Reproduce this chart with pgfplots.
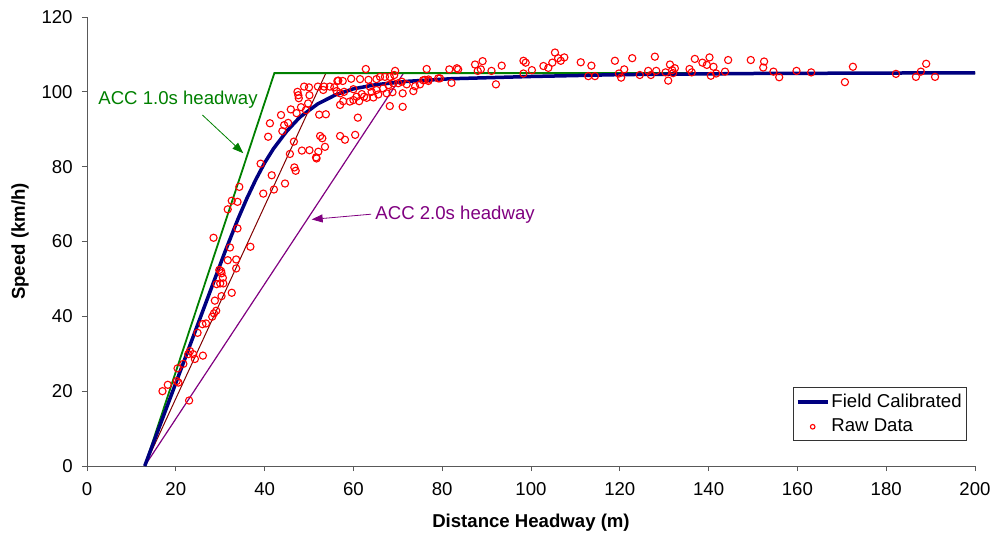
\documentclass[border=0pt]{standalone}
\usepackage{pgfplots}
\pgfplotsset{compat=1.18}
\usepackage{pgfplotstable}
\usepackage{fontspec}
\setmainfont{Liberation Sans}
\usetikzlibrary{arrows.meta}
\definecolor{accgreen}{RGB}{0,128,0}
\definecolor{accpurple}{RGB}{128,0,128}
\definecolor{accbrown}{RGB}{128,0,0}
\definecolor{fieldblue}{RGB}{0,0,128}
\definecolor{rawred}{RGB}{255,0,0}
\pgfplotsset{
  lineleg/.style={legend image code/.code={\draw[##1] (0pt,0pt) -- (30pt,0pt);}},
  markleg/.style={legend image code/.code={\draw[##1, mark size=2.3pt] plot coordinates {(15pt,0pt)};}},
}

\pgfplotstableread{
x y
17.0 20.0
18.2 21.7
20.2 22.7
20.6 22.3
20.4 26.1
21.7 27.3
23.0 17.5
22.8 29.9
23.2 30.7
23.9 29.9
24.3 28.6
26.1 29.5
24.9 35.6
26.0 37.9
26.8 38.1
28.2 39.9
28.6 40.8
29.1 41.5
28.8 44.2
30.3 45.4
32.6 46.3
29.2 48.6
30.0 48.8
30.7 48.8
30.6 50.3
30.3 51.5
30.2 52.1
29.8 52.4
33.6 52.8
33.6 55.2
31.7 55.0
32.2 58.4
36.8 58.6
28.5 61.0
33.9 63.5
31.7 68.6
32.6 70.9
33.9 70.6
34.3 74.6
39.7 72.8
42.1 73.9
44.6 75.5
41.6 77.7
39.1 80.8
45.7 83.4
46.7 79.8
47.0 78.9
46.6 86.7
48.4 84.3
50.1 84.4
51.7 82.2
52.1 84.0
51.6 82.5
52.5 88.2
53.0 87.6
53.6 85.3
40.8 88.0
41.2 91.6
43.7 93.8
44.0 89.5
44.4 91.1
45.3 91.7
45.9 95.3
47.2 94.3
48.2 95.9
49.3 95.1
49.8 96.9
47.4 100.0
47.6 99.1
47.7 98.3
48.9 101.4
50.0 101.2
50.1 99.1
52.0 101.4
53.4 101.4
54.7 101.4
55.7 101.2
57.0 99.6
52.3 93.9
53.8 94.0
57.0 96.5
57.0 88.2
58.1 87.2
60.4 88.5
61.0 93.1
56.6 103.0
62.8 106.1
69.4 105.6
69.2 104.5
76.5 106.1
53.2 100.5
56.4 102.9
57.6 102.9
59.5 103.5
56.2 100.2
57.9 100.0
60.0 100.7
61.5 103.4
63.4 103.2
63.7 101.4
65.2 103.4
66.0 104.0
67.1 104.0
68.2 104.0
60.7 98.7
61.9 99.4
62.4 98.7
64.1 100.0
65.2 100.5
66.7 100.9
67.9 101.8
69.0 102.3
70.1 102.3
70.9 102.7
72.0 102.0
59.2 97.4
60.0 97.8
61.3 97.5
63.0 98.4
64.5 98.5
65.6 99.3
67.5 99.6
68.8 99.9
71.1 99.6
73.5 100.2
75.0 102.0
76.1 103.2
76.9 102.9
57.7 97.5
68.2 96.2
71.1 96.0
73.9 101.5
75.7 103.1
76.9 103.3
79.1 103.6
82.1 102.4
81.6 106.0
83.3 106.3
79.5 103.6
83.6 106.0
87.4 107.3
89.1 108.2
88.0 105.6
88.7 106.0
91.1 105.6
93.4 107.0
92.1 102.0
98.3 108.3
98.8 107.8
98.3 104.9
100.2 105.8
102.8 106.9
103.9 106.4
104.8 107.8
105.4 110.5
106.1 109.0
106.7 108.3
107.5 109.2
111.2 107.9
113.6 107.0
112.9 104.2
114.4 104.2
118.9 108.3
122.8 109.0
119.8 104.9
120.3 103.8
121.0 106.0
124.5 104.5
126.4 105.6
127.0 104.5
127.9 109.4
128.2 105.6
130.3 105.2
131.3 107.3
131.8 105.8
132.4 106.3
130.9 103.0
132.0 105.0
135.7 106.1
136.2 105.2
136.9 108.8
138.6 107.8
139.6 107.2
140.2 109.2
141.1 106.7
140.5 104.3
141.7 104.9
143.7 105.4
144.4 108.5
149.5 108.5
152.5 108.1
152.3 106.5
154.6 105.4
155.9 103.9
159.8 105.6
163.1 105.2
170.7 102.6
172.5 106.7
182.2 104.8
186.7 104.0
187.8 105.4
189.0 107.5
191.0 104.0
}\rawdata

\pgfplotstableread{
x y
13 0
16 9.5
19 19
22 28.5
25 38
28 47.5
31 57
34 66
36 71.5
38 76.5
40 81
42 84.8
45 89.5
48 93.3
52 96.8
56 99.2
60 100.8
65 101.9
72 102.8
82 103.5
100 104.1
120 104.6
150 104.9
200 105.1
}\fielddata

\begin{document}
\fontsize{18.6}{22}\selectfont
\begin{tikzpicture}
\path[use as bounding box] (-87pt,-76pt) rectangle (908pt,466pt);
\begin{axis}[
  at={(0,0)}, anchor=south west,
  scale only axis, width=888pt, height=449pt,
  xmin=0, xmax=200, ymin=0, ymax=120,
  xtick={0,20,...,200}, ytick={0,20,...,120},
  axis x line*=bottom, axis y line*=left,
  tick align=outside, major tick length=5pt,
  tick style={black!65, line width=0.8pt},
  axis line style={black!65, line width=0.8pt},
  /pgf/number format/assume math mode=true,
  ticklabel style={font=\fontsize{18.6}{22}\selectfont},
  xticklabel style={yshift=-5pt},
  yticklabel style={xshift=-3pt},
  label style={font=\fontsize{18.6}{22}\selectfont\bfseries},
  xlabel={Distance Headway (m)},
  ylabel={Speed (km/h)},
  xlabel style={at={(axis description cs:0.5,-0.127)}, anchor=center},
  ylabel style={at={(axis description cs:-0.0755,0.5)}, anchor=center},
  legend style={at={(rel axis cs:0.991,0.056)}, anchor=south east,
    draw=black!80, line width=0.6pt, fill=white,
    font=\fontsize{18.6}{22}\selectfont, inner xsep=3pt, inner ysep=4pt, row sep=5pt},
  legend cell align=left,
]
\addplot[accpurple, line width=1.2pt, forget plot] coordinates {(13,0) (71.3,105) (200,105)};
\addplot[accbrown, line width=1pt, forget plot] coordinates {(13,0) (53.8,105) (200,105)};
\addplot[accgreen, line width=1.8pt, forget plot] coordinates {(13,0) (42.2,105) (200,105)};
\addplot[fieldblue, line width=3.5pt, line join=round, lineleg] table[x=x,y=y] {\fielddata};
\addlegendentry{Field Calibrated}
\addplot[only marks, mark=o, mark size=3.6pt, rawred, mark options={line width=1.1pt}, markleg] table[x=x,y=y] {\rawdata};
\addlegendentry{Raw Data}
\node[text=accgreen, font=\fontsize{18.6}{22}\selectfont] at (axis cs:20.5,97.8) {ACC 1.0s headway};
\draw[accgreen, line width=0.8pt, -{Triangle[length=11pt,width=8pt]}] (axis cs:26.0,93.8) -- (axis cs:35.2,83.6);
\node[text=accpurple, font=\fontsize{18.6}{22}\selectfont] at (axis cs:82.9,67.1) {ACC 2.0s headway};
\draw[accpurple, line width=0.8pt, -{Triangle[length=11pt,width=8pt]}] (axis cs:64.0,67.3) -- (axis cs:50.6,65.9);
\end{axis}
\end{tikzpicture}
\end{document}
